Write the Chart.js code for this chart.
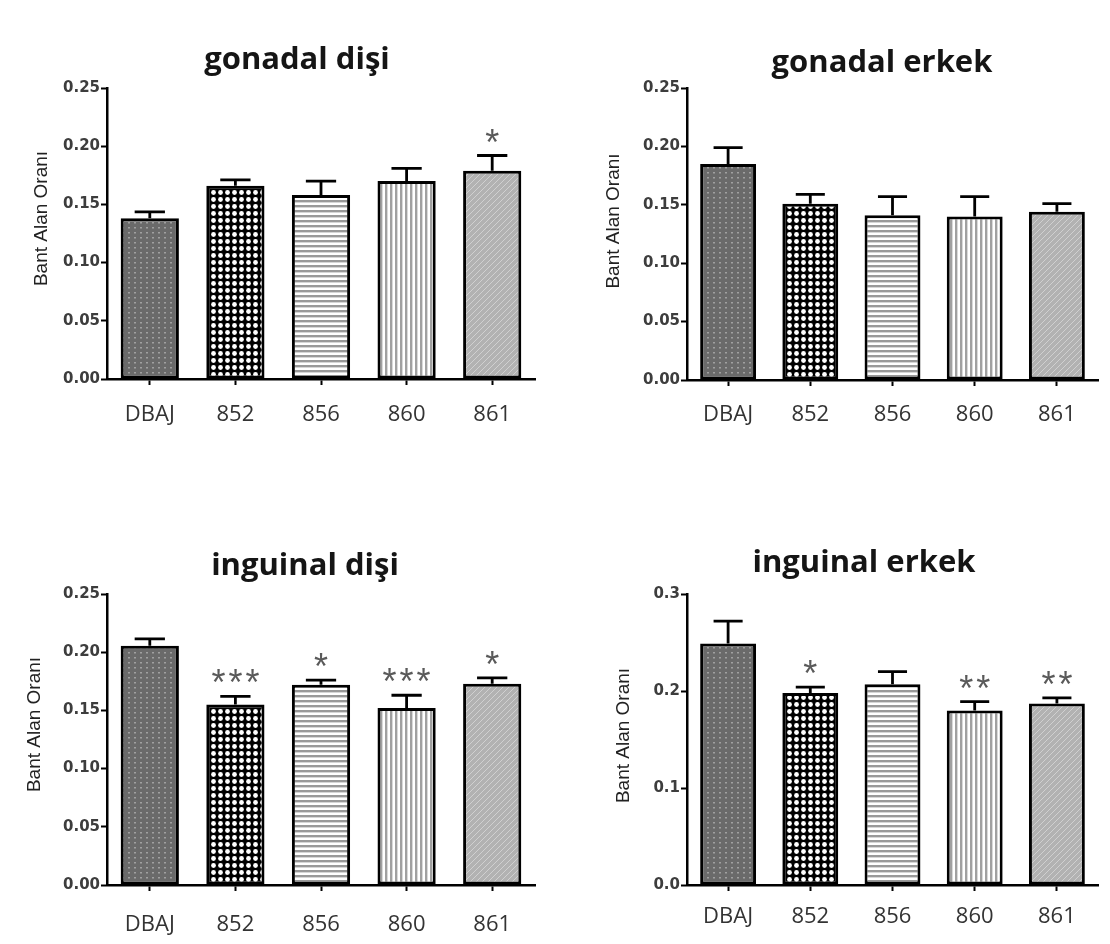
<!DOCTYPE html>
<html lang="tr">
<head>
  <meta charset="UTF-8" />
  <title>Bant Alan Oranı</title>
  <script src="https://cdn.jsdelivr.net/npm/chart.js"></script>
  <style>
    body {
      margin: 0;
      background: #ffffff;
      width: 1110px;
      height: 944px;
      overflow: hidden;
      position: relative;
    }
    .panel {
      position: absolute;
    }
  </style>
</head>
<body>
  <div class="panel" style="left:0;top:0;width:555px;height:470px"><canvas id="c1"></canvas></div>
  <div class="panel" style="left:555px;top:0;width:555px;height:470px"><canvas id="c2"></canvas></div>
  <div class="panel" style="left:0;top:470px;width:555px;height:474px"><canvas id="c3"></canvas></div>
  <div class="panel" style="left:555px;top:470px;width:555px;height:474px"><canvas id="c4"></canvas></div>
  <script>
    const groups = ['DBAJ', '852', '856', '860', '861'];
    const panelTitles = ['gonadal dişi', 'gonadal erkek', 'inguinal dişi', 'inguinal erkek'];
    const yAxisTitle = 'Bant Alan Oranı';

    const gonadalDisiMean = [0.138, 0.166, 0.158, 0.170, 0.179];
    const gonadalDisiSem = [0.0055, 0.005, 0.012, 0.011, 0.013];
    const gonadalDisiSig = ['', '', '', '', '*'];

    const gonadalErkekMean = [0.185, 0.151, 0.141, 0.140, 0.144];
    const gonadalErkekSem = [0.014, 0.008, 0.016, 0.017, 0.007];
    const gonadalErkekSig = ['', '', '', '', ''];

    const inguinalDisiMean = [0.2055, 0.155, 0.172, 0.152, 0.173];
    const inguinalDisiSem = [0.006, 0.007, 0.004, 0.011, 0.005];
    const inguinalDisiSig = ['', '***', '*', '***', '*'];

    const inguinalErkekMean = [0.249, 0.198, 0.207, 0.180, 0.187];
    const inguinalErkekSem = [0.023, 0.006, 0.013, 0.009, 0.006];
    const inguinalErkekSig = ['', '*', '', '**', '**'];

    const yTicks025 = ['0.00', '0.05', '0.10', '0.15', '0.20', '0.25'];
    const yTicks03 = ['0.0', '0.1', '0.2', '0.3'];

    // fill patterns, one per group (like the GraphPad bars)
    function makePattern(kind) {
      const t = document.createElement('canvas');
      const g = t.getContext('2d');
      if (kind === 'dots') {
        t.width = 6; t.height = 5;
        g.fillStyle = '#6a6a6a'; g.fillRect(0, 0, 6, 5);
        g.fillStyle = '#a0a0a0'; g.fillRect(2, 2, 2, 1.5);
      } else if (kind === 'checker') {
        t.width = 7; t.height = 7;
        g.fillStyle = '#000'; g.fillRect(0, 0, 7, 7);
        g.fillStyle = '#fff';
        g.beginPath(); g.arc(3.5, 3.5, 2.4, 0, Math.PI * 2); g.fill();
      } else if (kind === 'hlines') {
        t.width = 4; t.height = 5;
        g.fillStyle = '#fff'; g.fillRect(0, 0, 4, 5);
        g.fillStyle = '#999'; g.fillRect(0, 0, 4, 2.4);
      } else if (kind === 'vlines') {
        t.width = 5; t.height = 4;
        g.fillStyle = '#fff'; g.fillRect(0, 0, 5, 4);
        g.fillStyle = '#a0a0a0'; g.fillRect(0, 0, 2.4, 4);
      } else {
        t.width = 6; t.height = 6;
        g.fillStyle = '#b2b2b2'; g.fillRect(0, 0, 6, 6);
        g.fillStyle = '#d0d0d0';
        for (let i = 0; i < 6; i++) g.fillRect(i, 5 - i, 1, 1);
      }
      return g.createPattern(t, 'repeat');
    }
    const barFills = ['dots', 'checker', 'hlines', 'vlines', 'diag'].map(makePattern);

    // error bars (upper only), significance stars, panel title and y title
    const barExtras = {
      id: 'barExtras',
      afterDatasetsDraw(chart, args, opts) {
        const ctx = chart.ctx;
        const y = chart.scales.y;
        const area = chart.chartArea;
        const meta = chart.getDatasetMeta(0);
        ctx.save();
        meta.data.forEach((bar, i) => {
          const top = y.getPixelForValue(opts.mean[i] + opts.sem[i]);
          const half = bar.width * 0.26;
          ctx.strokeStyle = '#000';
          ctx.lineWidth = 2.8;
          ctx.beginPath();
          ctx.moveTo(bar.x, bar.y);
          ctx.lineTo(bar.x, top);
          ctx.moveTo(bar.x - half, top);
          ctx.lineTo(bar.x + half, top);
          ctx.stroke();
          const s = opts.sig[i];
          if (s) {
            ctx.fillStyle = '#5a5a5a';
            ctx.font = '36px "Liberation Sans"';
            ctx.textAlign = 'center';
            ctx.textBaseline = 'alphabetic';
            const n = s.length;
            for (let k = 0; k < n; k++) {
              ctx.fillText('*', bar.x + (k - (n - 1) / 2) * 17, top - 1);
            }
          }
        });
        ctx.fillStyle = '#151515';
        ctx.font = 'bold 31px "Open Sans"';
        ctx.textAlign = 'center';
        ctx.textBaseline = 'alphabetic';
        ctx.fillText(opts.title, opts.titleX, opts.titleY);

        ctx.translate(opts.yTitleX, (area.top + area.bottom) / 2 + opts.yTitleShift);
        ctx.rotate(-Math.PI / 2);
        ctx.fillStyle = '#222';
        ctx.font = '19px "Liberation Sans"';
        ctx.textBaseline = 'middle';
        ctx.fillText(yAxisTitle, 0, 0);
        ctx.restore();
      }
    };

    const panels = [
      { id: 'c1', title: panelTitles[0], mean: gonadalDisiMean, sem: gonadalDisiSem, sig: gonadalDisiSig,
        yMax: 0.25, yStep: 0.05, yTicks: yTicks025,
        axisW: 107, padRight: 20, padTop: 88, xH: 91, xPad: 17,
        titleX: 297, titleY: 69, yTitleX: 42, yTitleShift: -15 },
      { id: 'c2', title: panelTitles[1], mean: gonadalErkekMean, sem: gonadalErkekSem, sig: gonadalErkekSig,
        yMax: 0.25, yStep: 0.05, yTicks: yTicks025,
        axisW: 132, padRight: 12, padTop: 88, xH: 90, xPad: 16,
        titleX: 327, titleY: 72, yTitleX: 59, yTitleShift: -13 },
      { id: 'c3', title: panelTitles[2], mean: inguinalDisiMean, sem: inguinalDisiSem, sig: inguinalDisiSig,
        yMax: 0.25, yStep: 0.05, yTicks: yTicks025,
        axisW: 107, padRight: 20, padTop: 124, xH: 59, xPad: 21,
        titleX: 305, titleY: 105, yTitleX: 35, yTitleShift: -15 },
      { id: 'c4', title: panelTitles[3], mean: inguinalErkekMean, sem: inguinalErkekSem, sig: inguinalErkekSig,
        yMax: 0.3, yStep: 0.1, yTicks: yTicks03,
        axisW: 132, padRight: 12, padTop: 124, xH: 59, xPad: 13,
        titleX: 309, titleY: 102, yTitleX: 69, yTitleShift: -4 }
    ];

    panels.forEach(p => {
      new Chart(document.getElementById(p.id), {
        type: 'bar',
        data: {
          labels: groups,
          datasets: [{
            data: p.mean,
            backgroundColor: barFills,
            borderColor: '#000',
            borderWidth: 3,
            borderSkipped: false,
            barPercentage: 0.68,
            categoryPercentage: 1
          }]
        },
        options: {
          responsive: true,
          maintainAspectRatio: false,
          animation: false,
          events: [],
          layout: { padding: { left: 0, right: p.padRight, top: p.padTop, bottom: 0 } },
          plugins: {
            legend: { display: false },
            tooltip: { enabled: false },
            barExtras: {
              mean: p.mean, sem: p.sem, sig: p.sig, title: p.title,
              titleX: p.titleX, titleY: p.titleY, yTitleX: p.yTitleX, yTitleShift: p.yTitleShift
            }
          },
          scales: {
            x: {
              grid: { offset: false, drawOnChartArea: false, drawTicks: true, tickLength: 6, tickColor: '#000', tickWidth: 2 },
              border: { display: true, color: '#000', width: 2.5 },
              ticks: { color: '#333', font: { family: 'Open Sans', size: 22 }, padding: p.xPad },
              afterFit: s => { s.height = p.xH; }
            },
            y: {
              min: 0,
              max: p.yMax,
              grid: { drawOnChartArea: false, drawTicks: true, tickLength: 6, tickColor: '#000', tickWidth: 2 },
              border: { display: true, color: '#000', width: 2.5 },
              ticks: {
                stepSize: p.yStep,
                padding: 1,
                color: '#3d3d3d',
                font: { family: 'DejaVu Sans', size: 15, weight: 'bold' },
                callback: (v, i) => p.yTicks[i]
              },
              afterFit: s => { s.width = p.axisW; }
            }
          }
        },
        plugins: [barExtras]
      });
    });
  </script>
</body>
</html>
